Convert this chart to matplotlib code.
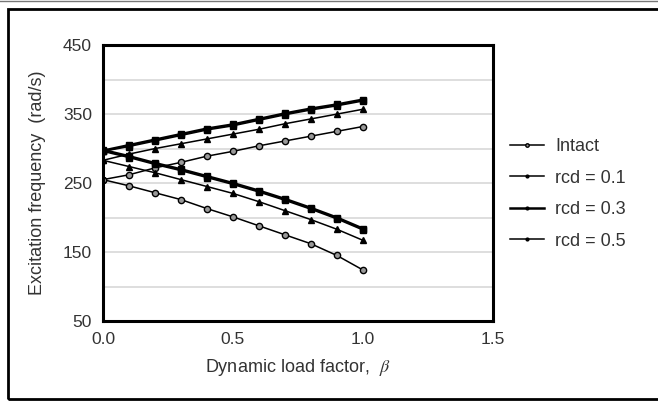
import matplotlib.pyplot as plt
from matplotlib.patches import Rectangle
from matplotlib.lines import Line2D
from matplotlib.ticker import MultipleLocator

plt.rcParams['font.family'] = ['Liberation Sans', 'DejaVu Sans']
plt.rcParams['mathtext.fontset'] = 'stix'

beta = [0.0, 0.1, 0.2, 0.3, 0.4, 0.5, 0.6, 0.7, 0.8, 0.9, 1.0]

# upper / lower branch of each curve
intact_up = [255, 262, 272, 280, 289, 296, 304, 311, 318, 325, 332]
intact_lo = [255, 246, 236, 226, 213, 201, 188, 175, 162, 145, 124]
rcd01_up = [296, 303, 311, 319, 327, 333, 341, 349, 356, 362, 369]
rcd01_lo = [296, 287, 277, 268, 258, 248, 237, 225, 212, 198, 182]
rcd03_up = [297, 305, 313, 321, 329, 335, 343, 351, 358, 364, 371]
rcd03_lo = [298, 289, 279, 270, 260, 250, 239, 227, 214, 200, 184]
rcd05_up = [283, 292, 300, 307, 314, 321, 328, 336, 343, 350, 357]
rcd05_lo = [283, 274, 265, 255, 245, 235, 223, 210, 197, 183, 167]

labels = ['Intact', 'rcd = 0.1', 'rcd = 0.3', 'rcd = 0.5']
txt = '#333333'
fs = 13

fig = plt.figure(figsize=(6.58, 4.03), dpi=100)
ax = fig.add_axes([0.1565, 0.2035, 0.5925, 0.6845])

# frame round the figure
fig.patches.append(Rectangle((8/658, 4/403), 1.2, 390/403, transform=fig.transFigure,
                             fill=False, lw=2, ec='black'))
fig.add_artist(Line2D([0, 1], [402/403, 402/403], color='#777777', lw=1))

circ = dict(marker='o', ms=4.5, mfc='#999999', mec='black', mew=1)
tri = dict(marker='^', ms=5, mfc='black', mec='black')
sq = dict(marker='s', ms=5, mfc='black', mec='black')

for y in (intact_up, intact_lo):
    ax.plot(beta, y, color='black', lw=1.1, **circ)
for y in (rcd01_up, rcd01_lo):
    ax.plot(beta, y, color='black', lw=1.1, **sq)
for y in (rcd03_up, rcd03_lo):
    ax.plot(beta, y, color='black', lw=1.8, **sq)
for y in (rcd05_up, rcd05_lo):
    ax.plot(beta, y, color='black', lw=1.1, **tri)

ax.set_xlim(0, 1.5)
ax.set_ylim(50, 450)
ax.set_xticks([0, 0.5, 1.0, 1.5])
ax.set_xticklabels(['0.0', '0.5', '1.0', '1.5'])
ax.set_yticks([50, 150, 250, 350, 450])
ax.yaxis.set_minor_locator(MultipleLocator(50))
ax.grid(axis='y', which='both', color='#d8d8d8', lw=1.2)
ax.set_axisbelow(True)
ax.tick_params(which='both', length=0, labelsize=12.5, labelcolor=txt)
ax.tick_params(axis='y', pad=8)
ax.tick_params(axis='x', pad=8)
for s in ax.spines.values():
    s.set_linewidth(2.2)

ax.set_xlabel('Dynamic load factor,  $\\beta$', fontsize=fs, color=txt, labelpad=7)
ax.set_ylabel('Excitation frequency  (rad/s)', fontsize=fs, color=txt, labelpad=12)

handles = [Line2D([], [], color='black', lw=1.1, marker='o', ms=2.5, mfc='#999999', mec='black'),
           Line2D([], [], color='black', lw=1.1, marker='o', ms=2, mfc='black'),
           Line2D([], [], color='black', lw=1.8, marker='o', ms=2, mfc='black'),
           Line2D([], [], color='black', lw=1.1, marker='o', ms=2, mfc='black')]
leg = fig.legend(handles, labels, loc='center left', bbox_to_anchor=(510/658, 0.5186),
                 frameon=False, fontsize=fs, handlelength=1.9, labelspacing=0.8,
                 handletextpad=0.6, borderpad=0, borderaxespad=0)
for t in leg.get_texts():
    t.set_color(txt)

fig.savefig('out.png', dpi=100)
